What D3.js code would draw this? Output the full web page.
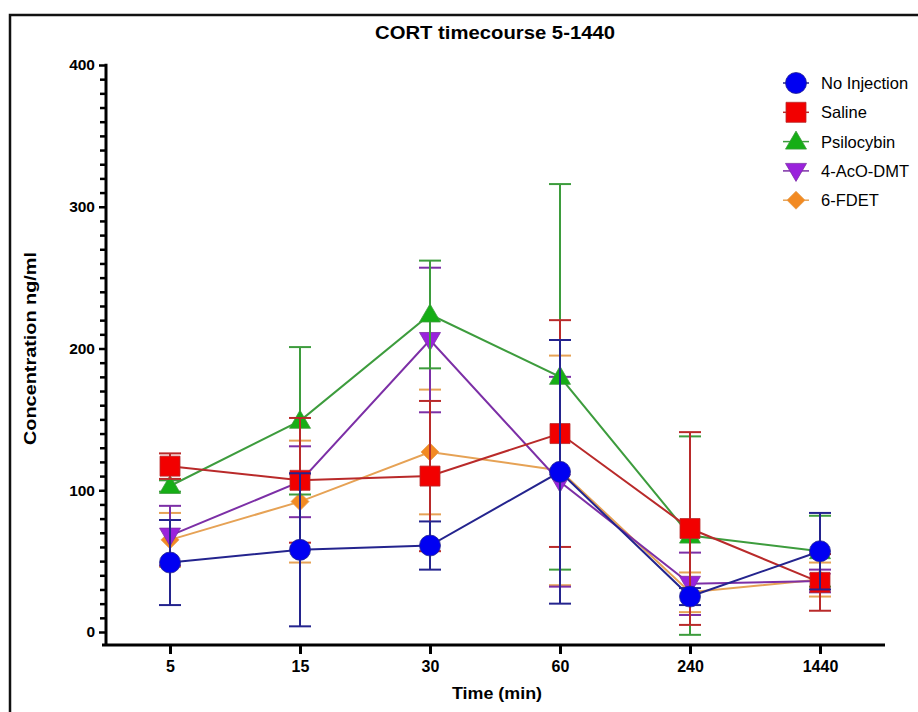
<!DOCTYPE html>
<html>
<head>
<meta charset="utf-8">
<title>CORT timecourse</title>
<script src="https://d3js.org/d3.v7.min.js"></script>
<style>
  body { margin: 0; background: #fff; }
  text { font-family: "Liberation Sans", Arial, sans-serif; font-weight: bold; fill: #000; }
</style>
</head>
<body>
<div id="chart"></div>
<script>
// time points (categorical x axis)
var times = ["5", "15", "30", "60", "240", "1440"];

var groups = ["No Injection", "Saline", "Psilocybin", "4-AcO-DMT", "6-FDET"];

// mean concentration (ng/ml) per group
var noInjection = [49, 58, 61, 113, 25, 57];
var saline      = [117, 107, 110, 140, 73, 35];
var psilocybin  = [103, 149, 224, 180, 68, 57];
var acoDmt      = [68, 106, 206, 106, 34, 36];
var fdet        = [65, 92, 127, 114, 28, 37];

// error (sem) per group
var noInjectionErr = [30, 54, 17, 93, 6, 27];
var salineErr      = [9, 44, 53, 80, 68, 20];
var psilocybinErr  = [4, 52, 38, 136, 70, 25];
var acoDmtErr      = [21, 25, 51, 74, 22, 8];
var fdetErr        = [19, 43, 44, 81, 14, 12];

var yTicks = [0, 100, 200, 300, 400];

var W = 918, H = 712;

var svg = d3.select("#chart").append("svg")
  .attr("width", W)
  .attr("height", H);

// frame around the figure
svg.append("rect")
  .attr("x", 10).attr("y", 15)
  .attr("width", 1000).attr("height", 800)
  .attr("fill", "none")
  .attr("stroke", "#111")
  .attr("stroke-width", 2.5);

var x = d3.scalePoint()
  .domain(times)
  .range([105, 885])
  .padding(0.5);

var y = d3.scaleLinear()
  .domain([0, 400])
  .range([632, 65]);

var xAxisY = 645;

// symbol path builders, centred on 0,0
function circlePath(s) { var r = s / 2; return "M" + (-r) + ",0A" + r + "," + r + " 0 1,0 " + r + ",0A" + r + "," + r + " 0 1,0 " + (-r) + ",0Z"; }
function squarePath(s) { var h = s / 2; return "M" + (-h) + "," + (-h) + "H" + h + "V" + h + "H" + (-h) + "Z"; }
function triUpPath(s) { var h = s / 2; return "M0," + (-h * 1.05) + "L" + h * 1.05 + "," + h * 0.75 + "L" + (-h * 1.05) + "," + h * 0.75 + "Z"; }
function triDownPath(s) { var h = s / 2; return "M0," + (h * 1.05) + "L" + h * 1.05 + "," + (-h * 0.75) + "L" + (-h * 1.05) + "," + (-h * 0.75) + "Z"; }
function diamondPath(s) { var h = s / 2; return "M0," + (-h) + "L" + h + ",0L0," + h + "L" + (-h) + ",0Z"; }

var series = [
  { name: groups[0], vals: noInjection, err: noInjectionErr, fill: "#0000f2", line: "#24248e", shape: circlePath, size: 21 },
  { name: groups[1], vals: saline, err: salineErr, fill: "#f20000", line: "#b92a2a", shape: squarePath, size: 20 },
  { name: groups[2], vals: psilocybin, err: psilocybinErr, fill: "#16ae16", line: "#3d9c3d", shape: triUpPath, size: 20 },
  { name: groups[3], vals: acoDmt, err: acoDmtErr, fill: "#9a22dc", line: "#7c2fa6", shape: triDownPath, size: 20 },
  { name: groups[4], vals: fdet, err: fdetErr, fill: "#f28a22", line: "#e6a255", shape: diamondPath, size: 18 }
];

// axes
var minorTicks = d3.range(0, 401, 10).filter(function(v) { return v % 100 !== 0; });

svg.append("g")
  .attr("transform", "translate(106,0)")
  .call(d3.axisLeft(y).tickValues(minorTicks).tickSize(6).tickFormat(""))
  .call(function(g) { g.select(".domain").remove(); })
  .selectAll("line").attr("stroke", "#000").attr("stroke-width", 2.5);

var yAxis = svg.append("g")
  .attr("transform", "translate(106,0)")
  .call(d3.axisLeft(y).tickValues(yTicks).tickSize(7).tickPadding(4))
  .call(function(g) { g.select(".domain").remove(); });
yAxis.selectAll("line").attr("stroke", "#000").attr("stroke-width", 2.5);
yAxis.selectAll("text").style("font-size", "15.5px").style("font-weight", "bold").attr("fill", "#000");

svg.append("line")
  .attr("x1", 106).attr("x2", 106)
  .attr("y1", y(400) - 1.2).attr("y2", xAxisY)
  .attr("stroke", "#000").attr("stroke-width", 3);

var xAxis = svg.append("g")
  .attr("transform", "translate(0," + xAxisY + ")")
  .call(d3.axisBottom(x).tickSize(9).tickSizeOuter(0).tickPadding(7));
xAxis.select(".domain").attr("stroke", "#000").attr("stroke-width", 3)
  .attr("d", "M102,0H885");
xAxis.selectAll("line").attr("stroke", "#000").attr("stroke-width", 3);
xAxis.selectAll("text").style("font-size", "16px").style("font-weight", "bold").attr("fill", "#000");

// titles
svg.append("text")
  .attr("x", 495).attr("y", 39)
  .attr("text-anchor", "middle")
  .style("font-size", "18px")
  .attr("textLength", 240).attr("lengthAdjust", "spacingAndGlyphs")
  .text("CORT timecourse 5-1440");

svg.append("text")
  .attr("transform", "translate(36," + y(200) + ") rotate(-90)")
  .attr("text-anchor", "middle")
  .style("font-size", "16.5px")
  .attr("textLength", 193).attr("lengthAdjust", "spacingAndGlyphs")
  .text("Concentration ng/ml");

svg.append("text")
  .attr("x", 497).attr("y", 699)
  .attr("text-anchor", "middle")
  .style("font-size", "16.5px")
  .attr("textLength", 90).attr("lengthAdjust", "spacingAndGlyphs")
  .text("Time (min)");

// data: last group drawn first so No Injection sits on top
var line = d3.line()
  .x(function(d) { return x(d.t); })
  .y(function(d) { return y(d.v); });

var plot = svg.append("g");
series.slice().reverse().forEach(function(s) {
  var pts = times.map(function(t, i) { return { t: t, v: s.vals[i], e: s.err[i] }; });
  var g = plot.append("g");

  g.append("path")
    .datum(pts)
    .attr("d", line)
    .attr("fill", "none")
    .attr("stroke", s.line)
    .attr("stroke-width", 2);

  var eb = g.selectAll(".eb").data(pts).enter().append("g");
  eb.append("line")
    .attr("x1", function(d) { return x(d.t); })
    .attr("x2", function(d) { return x(d.t); })
    .attr("y1", function(d) { return y(d.v - d.e); })
    .attr("y2", function(d) { return y(d.v + d.e); })
    .attr("stroke", s.line).attr("stroke-width", 2);
  [-1, 1].forEach(function(sign) {
    eb.append("line")
      .attr("x1", function(d) { return x(d.t) - 11; })
      .attr("x2", function(d) { return x(d.t) + 11; })
      .attr("y1", function(d) { return y(d.v + sign * d.e); })
      .attr("y2", function(d) { return y(d.v + sign * d.e); })
      .attr("stroke", s.line).attr("stroke-width", 2);
  });

  g.selectAll(".mk").data(pts).enter().append("path")
    .attr("transform", function(d) { return "translate(" + x(d.t) + "," + y(d.v) + ")"; })
    .attr("d", s.shape(s.size))
    .attr("fill", s.fill)
    .attr("stroke", s.line)
    .attr("stroke-width", 0.8);
});

// legend
var legend = svg.append("g");
series.forEach(function(s, i) {
  var ly = 83 + i * 29.3;
  legend.append("line")
    .attr("x1", 783).attr("x2", 809)
    .attr("y1", ly).attr("y2", ly)
    .attr("stroke", s.line).attr("stroke-width", 1.5);
  legend.append("path")
    .attr("transform", "translate(796," + ly + ")")
    .attr("d", s.shape(s.size))
    .attr("fill", s.fill)
    .attr("stroke", s.line)
    .attr("stroke-width", 0.8);
  legend.append("text")
    .attr("x", 821).attr("y", ly + 6)
    .style("font-size", "16.5px")
    .style("font-weight", "normal")
    .text(s.name);
});
</script>
</body>
</html>
